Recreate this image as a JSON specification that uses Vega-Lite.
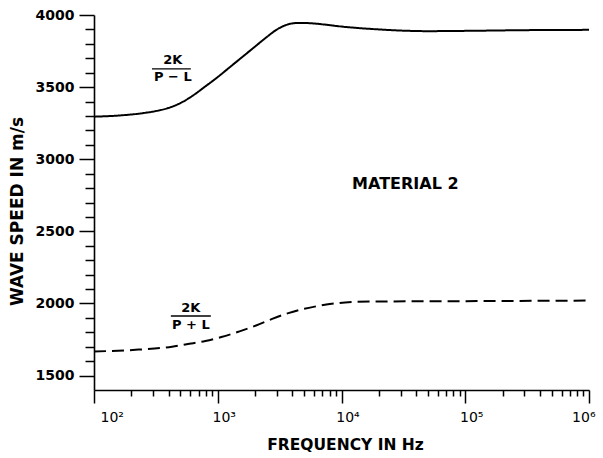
{
  "$schema": "https://vega.github.io/schema/vega-lite/v6.json",
  "width": 495,
  "height": 375,
  "autosize": {"type": "none"},
  "padding": {"left": 94, "top": 15, "right": 14, "bottom": 68},
  "background": "white",
  "config": {
    "view": {"stroke": null},
    "font": "DejaVu Sans",
    "axis": {"grid": false, "domainColor": "black", "tickColor": "black", "domainWidth": 1.6, "tickWidth": 1.5, "labelColor": "black", "titleColor": "black", "labelFont": "DejaVu Sans", "titleFont": "DejaVu Sans"}
  },
  "datasets": {
    "curves": [
      {"f": 100, "v": 3295, "s": "upper"},
      {"f": 158, "v": 3303, "s": "upper"},
      {"f": 251, "v": 3320, "s": "upper"},
      {"f": 316, "v": 3334, "s": "upper"},
      {"f": 398, "v": 3355, "s": "upper"},
      {"f": 501, "v": 3390, "s": "upper"},
      {"f": 631, "v": 3442, "s": "upper"},
      {"f": 794, "v": 3505, "s": "upper"},
      {"f": 1000, "v": 3570, "s": "upper"},
      {"f": 1259, "v": 3640, "s": "upper"},
      {"f": 1585, "v": 3710, "s": "upper"},
      {"f": 1995, "v": 3780, "s": "upper"},
      {"f": 2512, "v": 3850, "s": "upper"},
      {"f": 2951, "v": 3895, "s": "upper"},
      {"f": 3548, "v": 3930, "s": "upper"},
      {"f": 4467, "v": 3945, "s": "upper"},
      {"f": 5623, "v": 3943, "s": "upper"},
      {"f": 7079, "v": 3935, "s": "upper"},
      {"f": 10000, "v": 3920, "s": "upper"},
      {"f": 20000, "v": 3900, "s": "upper"},
      {"f": 50000, "v": 3888, "s": "upper"},
      {"f": 100000, "v": 3890, "s": "upper"},
      {"f": 316000, "v": 3895, "s": "upper"},
      {"f": 1000000, "v": 3897, "s": "upper"},
      {"f": 100, "v": 1667, "s": "lower"},
      {"f": 229, "v": 1680, "s": "lower"},
      {"f": 427, "v": 1700, "s": "lower"},
      {"f": 589, "v": 1720, "s": "lower"},
      {"f": 794, "v": 1740, "s": "lower"},
      {"f": 1070, "v": 1767, "s": "lower"},
      {"f": 1479, "v": 1805, "s": "lower"},
      {"f": 2040, "v": 1847, "s": "lower"},
      {"f": 2754, "v": 1893, "s": "lower"},
      {"f": 3720, "v": 1933, "s": "lower"},
      {"f": 5012, "v": 1963, "s": "lower"},
      {"f": 6920, "v": 1987, "s": "lower"},
      {"f": 10700, "v": 2007, "s": "lower"},
      {"f": 17400, "v": 2013, "s": "lower"},
      {"f": 100000, "v": 2016, "s": "lower"},
      {"f": 1000000, "v": 2020, "s": "lower"}
    ],
    "labels": [
      {"f": 434, "v": 3687, "t": "2K", "size": 13},
      {"f": 434, "v": 3567, "t": "P − L", "size": 13},
      {"f": 606, "v": 1967, "t": "2K", "size": 13},
      {"f": 606, "v": 1853, "t": "P + L", "size": 13},
      {"f": 32800, "v": 2827, "t": "MATERIAL  2", "size": 16}
    ],
    "bars": [
      {"f": 294, "f2": 606, "v": 3627},
      {"f": 418, "f2": 879, "v": 1913}
    ]
  },
  "layer": [
    {
      "data": {"name": "curves"},
      "mark": {"type": "line", "interpolate": "monotone", "color": "black", "strokeWidth": 2},
      "encoding": {
        "x": {"field": "f", "type": "quantitative", "scale": {"type": "log", "domain": [100, 1000000]},
          "axis": {"values": [100, 1000, 10000, 100000, 1000000], "tickSize": 13, "labelFontSize": 14, "labelPadding": 7, "labelOffset": 6,
            "labelExpr": "'10' + ['²','³','⁴','⁵','⁶'][round(log(datum.value)/LN10) - 2]",
            "title": "FREQUENCY IN Hz", "titleFontSize": 15.5, "titleFontWeight": "bold", "titleX": 251, "titleY": 54, "titleBaseline": "middle", "titleAnchor": null}},
        "y": {"field": "v", "type": "quantitative", "scale": {"domain": [1500, 4000], "zero": false},
          "axis": {"values": [1500, 2000, 2500, 3000, 3500, 4000], "format": "d", "tickSize": 15, "labelFontSize": 14, "labelFontWeight": "bold", "labelPadding": 5,
            "title": "WAVE SPEED IN m/s", "titleFontSize": 17, "titleFontWeight": "bold", "titleX": -77, "titleY": 196, "titleBaseline": "middle", "titleAngle": -90}},
        "strokeDash": {"field": "s", "type": "nominal", "scale": {"domain": ["upper", "lower"], "range": [[1, 0], [12, 6]]}, "legend": null}
      }
    },
    {
      "data": {"name": "labels"},
      "mark": {"type": "text", "color": "black", "font": "DejaVu Sans", "fontWeight": "bold", "baseline": "middle", "align": "center"},
      "encoding": {
        "x": {"field": "f", "type": "quantitative",
          "axis": {"orient": "bottom", "values": [200, 300, 400, 500, 600, 700, 800, 900, 2000, 3000, 4000, 5000, 6000, 7000, 8000, 9000, 20000, 30000, 40000, 50000, 60000, 70000, 80000, 90000, 200000, 300000, 400000, 500000, 600000, 700000, 800000, 900000], "tickSize": 6, "labels": false, "domain": false, "title": null}},
        "y": {"field": "v", "type": "quantitative",
          "axis": {"orient": "left", "values": [1600, 1700, 1800, 1900, 2100, 2200, 2300, 2400, 2600, 2700, 2800, 2900, 3100, 3200, 3300, 3400, 3600, 3700, 3800, 3900], "tickSize": 9, "labels": false, "domain": false, "title": null}},
        "text": {"field": "t"},
        "size": {"field": "size", "type": "quantitative", "scale": null}
      }
    },
    {
      "data": {"name": "bars"},
      "mark": {"type": "rule", "color": "black", "strokeWidth": 1.3},
      "encoding": {
        "x": {"field": "f", "type": "quantitative", "axis": null},
        "x2": {"field": "f2"},
        "y": {"field": "v", "type": "quantitative", "axis": null}
      }
    }
  ],
  "resolve": {"axis": {"x": "independent", "y": "independent"}}
}
